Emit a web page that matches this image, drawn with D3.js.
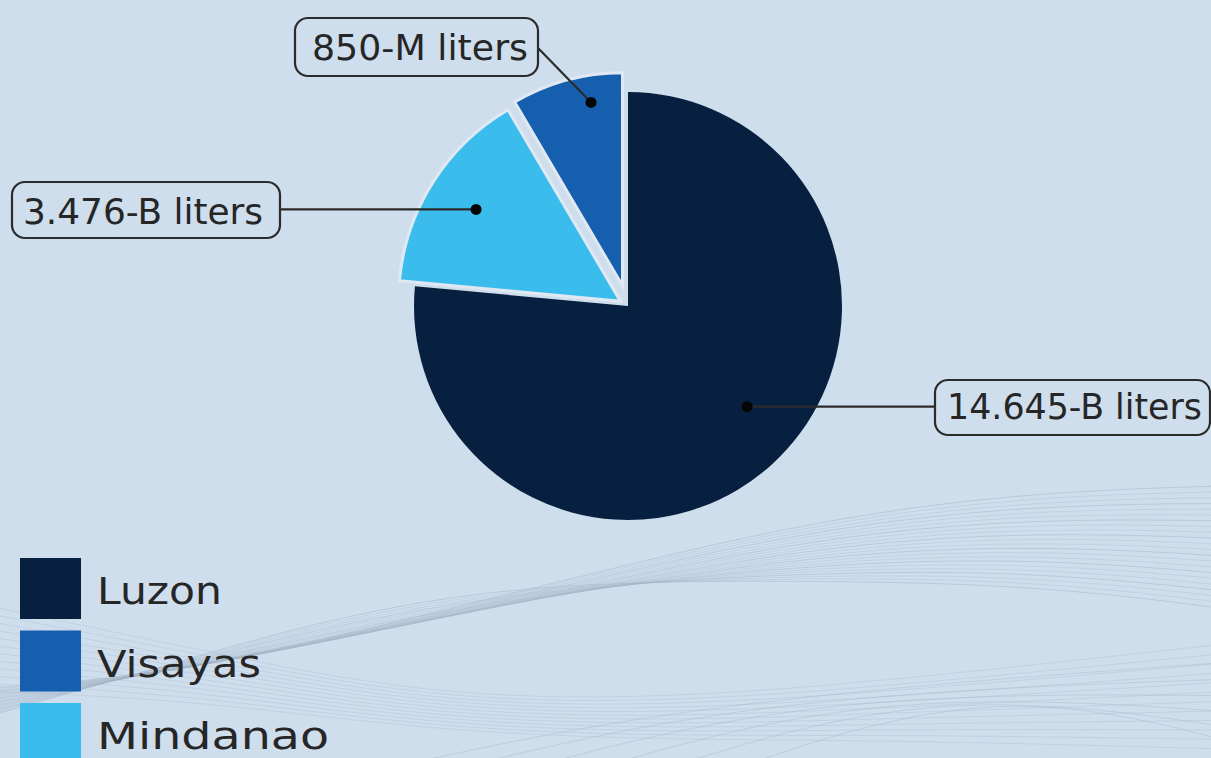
<!DOCTYPE html>
<html>
<head>
<meta charset="utf-8">
<script src="https://cdn.jsdelivr.net/npm/d3@7"></script>
<style>
  html, body { margin: 0; padding: 0; background: #cfdeed; overflow: hidden; }
  svg { display: block; }
  text { font-family: "Century Gothic", "DejaVu Sans", sans-serif; fill: #262626; }
</style>
</head>
<body>
<svg id="chart" width="1211" height="758"></svg>
<script>
// ---------------- data ----------------
const regions = ["Luzon", "Mindanao", "Visayas"];           // clockwise slice order from 12 o'clock
const sliceShare = [76.47, 15.08, 8.45];                     // share of the circle as drawn (%)
const volumeLabels = ["14.645-B liters", "3.476-B liters", "850-M liters"];
const legendOrder = ["Luzon", "Visayas", "Mindanao"];

// ---------------- styles / layout ----------------
const colors = { Luzon: "#08203f", Visayas: "#155fae", Mindanao: "#3abdec" };
const W = 1211, H = 758;
const cx = 628, cy = 306, R = 214;
const sliceStyle = {
  Luzon:    { r: R,   explode: 0 },
  Mindanao: { r: 222, explode: 9 },
  Visayas:  { r: 213, explode: 21 }
};
const labelLayout = {
  Luzon:    { t: 0.473, dist: 156, box: [935, 380, 275, 55], text: [947, 419, 255] },
  Mindanao: { t: 0.50,  dist: 171, box: [12, 182, 268, 56],  text: [23, 224, 240] },
  Visayas:  { t: 0.68,  dist: 186, box: [295, 18, 243, 58],  text: [312, 60, 216] }
};
const legendTextWidth = { Luzon: 125, Visayas: 164, Mindanao: 232 };

const svg = d3.select("#chart");
svg.append("rect").attr("width", W).attr("height", H).attr("fill", "#cfdeed");

// ---------------- decorative background waves ----------------
const deco = svg.append("g").attr("fill", "none").attr("stroke-linecap", "round");
const lineGen = d3.line().curve(d3.curveBasis);
for (let i = 0; i < 22; i++) {
  const k = i / 21;
  const pts = [
    [-60, 690 + k * 40],
    [150, 680 - k * 10],
    [450, 610 - k * 30 + 20 * Math.sin(k * 3)],
    [800, 520 + k * 60],
    [1050, 490 + k * 95],
    [1270, 485 + k * 130]
  ];
  deco.append("path").attr("d", lineGen(pts))
    .attr("stroke", "#a3b4c6").attr("stroke-opacity", 0.3 + 0.2 * (i % 3 === 0))
    .attr("stroke-width", 1);
}
for (let i = 0; i < 12; i++) {
  const k = i / 11;
  const pts = [
    [-40, 600 + k * 90],
    [200, 650 + k * 50],
    [420, 695 + k * 35],
    [650, 700 + k * 40],
    [900, 680 + k * 60],
    [1260, 640 + k * 110]
  ];
  deco.append("path").attr("d", lineGen(pts))
    .attr("stroke", "#a3b4c6").attr("stroke-opacity", 0.3)
    .attr("stroke-width", 1);
}
for (let i = 0; i < 6; i++) {
  const pts = [
    [380 + i * 70, 770],
    [700 + i * 60, 700 - i * 4],
    [1260, 660 + i * 18]
  ];
  deco.append("path").attr("d", lineGen(pts))
    .attr("stroke", "#a3b4c6").attr("stroke-opacity", 0.4)
    .attr("stroke-width", 1);
}

// ---------------- pie ----------------
const pieData = d3.pie().sort(null).value(d => d.share)
  (regions.map((name, i) => ({ name, share: sliceShare[i], label: volumeLabels[i] })));

const gPie = svg.append("g").attr("transform", `translate(${cx},${cy})`);

function offsetOf(d) {
  const s = sliceStyle[d.data.name];
  const mid = (d.startAngle + d.endAngle) / 2;
  return [Math.sin(mid) * s.explode, -Math.cos(mid) * s.explode];
}

gPie.selectAll("path.slice").data(pieData).join("path")
  .attr("class", "slice")
  .attr("transform", d => { const o = offsetOf(d); return `translate(${o[0]},${o[1]})`; })
  .attr("d", d => d3.arc().innerRadius(0).outerRadius(sliceStyle[d.data.name].r)(d))
  .attr("fill", d => colors[d.data.name])
  .attr("stroke", d => d.data.name === "Luzon" ? "none" : "#e0e9f3")
  .attr("stroke-width", 3)
  .attr("stroke-linejoin", "miter");

// ---------------- labels ----------------
const gLab = svg.append("g");
pieData.forEach(d => {
  const L = labelLayout[d.data.name];
  const o = offsetOf(d);
  const a = d.startAngle + L.t * (d.endAngle - d.startAngle);
  const px = cx + o[0] + Math.sin(a) * L.dist;
  const py = cy + o[1] - Math.cos(a) * L.dist;
  const [bx, by, bw, bh] = L.box;
  let ex, ey;
  if (d.data.name === "Luzon") { ex = bx; ey = py; }
  else if (d.data.name === "Mindanao") { ex = bx + bw; ey = py; }
  else { ex = bx + bw; ey = by + 30; }
  gLab.append("line")
    .attr("x1", px).attr("y1", py).attr("x2", ex).attr("y2", ey)
    .attr("stroke", "#2b2b2b").attr("stroke-width", 2.2);
  gLab.append("circle").attr("cx", px).attr("cy", py).attr("r", 5.5).attr("fill", "#050505");
  gLab.append("rect")
    .attr("x", bx).attr("y", by).attr("width", bw).attr("height", bh)
    .attr("rx", 13).attr("ry", 13)
    .attr("fill", "none").attr("stroke", "#2b2b2b").attr("stroke-width", 2.2);
  gLab.append("text")
    .attr("x", L.text[0]).attr("y", L.text[1])
    .attr("font-size", 36)
    .attr("textLength", L.text[2]).attr("lengthAdjust", "spacingAndGlyphs")
    .text(d.data.label);
});

// ---------------- legend ----------------
const gLeg = svg.append("g");
const legY = d3.scalePoint().domain(legendOrder).range([558, 703]);
gLeg.selectAll("rect").data(legendOrder).join("rect")
  .attr("x", 20).attr("y", d => legY(d)).attr("width", 61).attr("height", 61)
  .attr("fill", d => colors[d]);
gLeg.selectAll("text").data(legendOrder).join("text")
  .attr("x", 97).attr("y", d => legY(d) + 46)
  .attr("font-size", 38)
  .attr("textLength", d => legendTextWidth[d]).attr("lengthAdjust", "spacingAndGlyphs")
  .text(d => d);
</script>
</body>
</html>
